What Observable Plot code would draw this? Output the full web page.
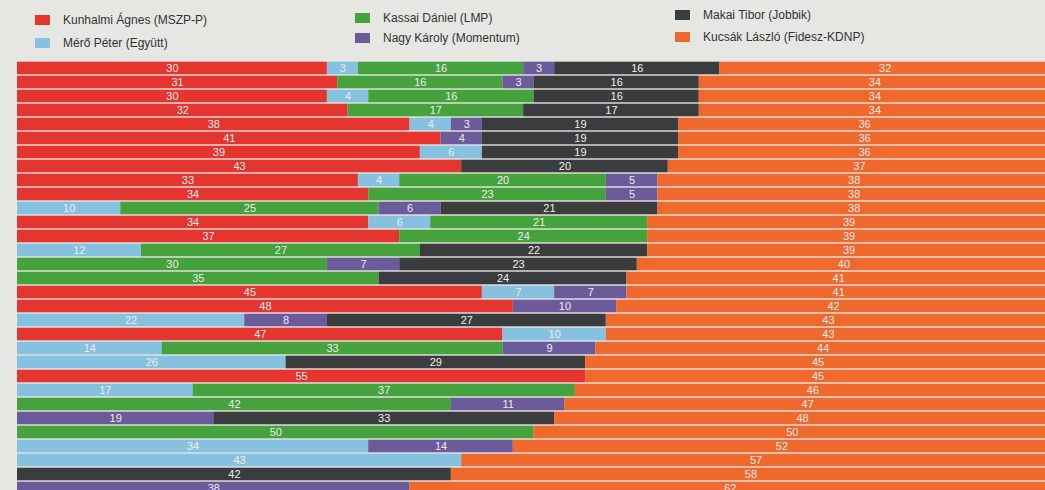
<!DOCTYPE html>
<html><head><meta charset="utf-8">
<script src="https://cdn.jsdelivr.net/npm/d3@7"></script>
<script src="https://cdn.jsdelivr.net/npm/@observablehq/plot@0.6"></script>
<style>
html,body{margin:0;padding:0;background:#e6e6e3;overflow:hidden;width:1045px;height:490px}
#legend{position:relative;height:54px;font-family:"Liberation Sans",Arial,sans-serif;font-size:12px;color:#333}
.item{position:absolute;display:flex;align-items:center;white-space:nowrap;transform:translateY(-50%)}
.sw{width:15px;height:10px;margin-right:13px}
#chart svg{display:block}
</style></head><body>
<div id="legend"></div><div id="chart"></div>
<script>
// Candidates (legend order) and colours
const names = ["Kunhalmi Ágnes (MSZP-P)", "Mérő Péter (Együtt)", "Kassai Dániel (LMP)", "Nagy Károly (Momentum)", "Makai Tibor (Jobbik)", "Kucsák László (Fidesz-KDNP)"];
const colors = ["#e5352f", "#86c1df", "#45a23c", "#6b5b9a", "#3b3c3d", "#f0692c"];

// 31 rows, top to bottom; 0 = no segment
const rows = d3.range(1, 32);
const red    = [30,31,30,32,38,41,39,43,33,34, 0,34,37, 0, 0, 0,45,48, 0,47, 0, 0,55, 0, 0, 0, 0, 0, 0, 0, 0];
const blue   = [ 3, 0, 4, 0, 4, 0, 6, 0, 4, 0,10, 6, 0,12, 0, 0, 7, 0,22,10,14,26, 0,17, 0, 0, 0,34,43, 0, 0];
const green  = [16,16,16,17, 0, 0, 0, 0,20,23,25,21,24,27,30,35, 0, 0, 0, 0,33, 0, 0,37,42, 0,50, 0, 0, 0, 0];
const purple = [ 3, 3, 0, 0, 3, 4, 0, 0, 5, 5, 6, 0, 0, 0, 7, 0, 7,10, 8, 0, 9, 0, 0, 0,11,19, 0,14, 0, 0,38];
const black  = [16,16,16,17,19,19,19,20, 0, 0,21, 0, 0,22,23,24, 0, 0,27, 0, 0,29, 0, 0, 0,33, 0, 0, 0,42, 0];
const orange = [32,34,34,34,36,36,36,37,38,38,38,39,39,39,40,41,41,42,43,43,44,45,45,46,47,48,50,52,57,58,62];

const seriesValues = [red, blue, green, purple, black, orange];

// Legend
const legendPos = [[35,20],[35,43],[355,18],[355,38],[675,15],[675,37]];
const legend = document.getElementById("legend");
names.forEach((n, i) => {
  const d = document.createElement("div");
  d.className = "item";
  d.style.left = legendPos[i][0] + "px";
  d.style.top = legendPos[i][1] + "px";
  d.innerHTML = `<span class="sw" style="background:${colors[i]}"></span><span>${n}</span>`;
  legend.appendChild(d);
});

// Tidy table
const data = [];
rows.forEach((r, i) => {
  names.forEach((n, k) => {
    const v = seriesValues[k][i];
    if (v > 0) data.push({row: r, party: n, value: v});
  });
});

const pitch = 14.3;
const plot = Plot.plot({
  width: 1045,
  height: 436,
  marginLeft: 0, marginRight: 0, marginTop: 0, marginBottom: 0,
  style: {background: "transparent"},
  x: {domain: [0, 100], range: [17, 1050], axis: null},
  y: {domain: rows, range: [2, 2 + 31 * pitch], padding: 0, axis: null},
  color: {domain: names, range: colors},
  marks: [
    Plot.barX(data, Plot.stackX({x: "value", y: "row", fill: "party", order: names, insetTop: 0.7, insetBottom: 0.7})),
    Plot.text(data, Plot.stackX({x: "value", y: "row", z: "party", order: names, text: d => String(d.value),
      fill: "#ececec", fontSize: 11, fontFamily: "Liberation Sans, Arial, sans-serif"}))
  ]
});
document.getElementById("chart").appendChild(plot);
</script>
</body></html>
